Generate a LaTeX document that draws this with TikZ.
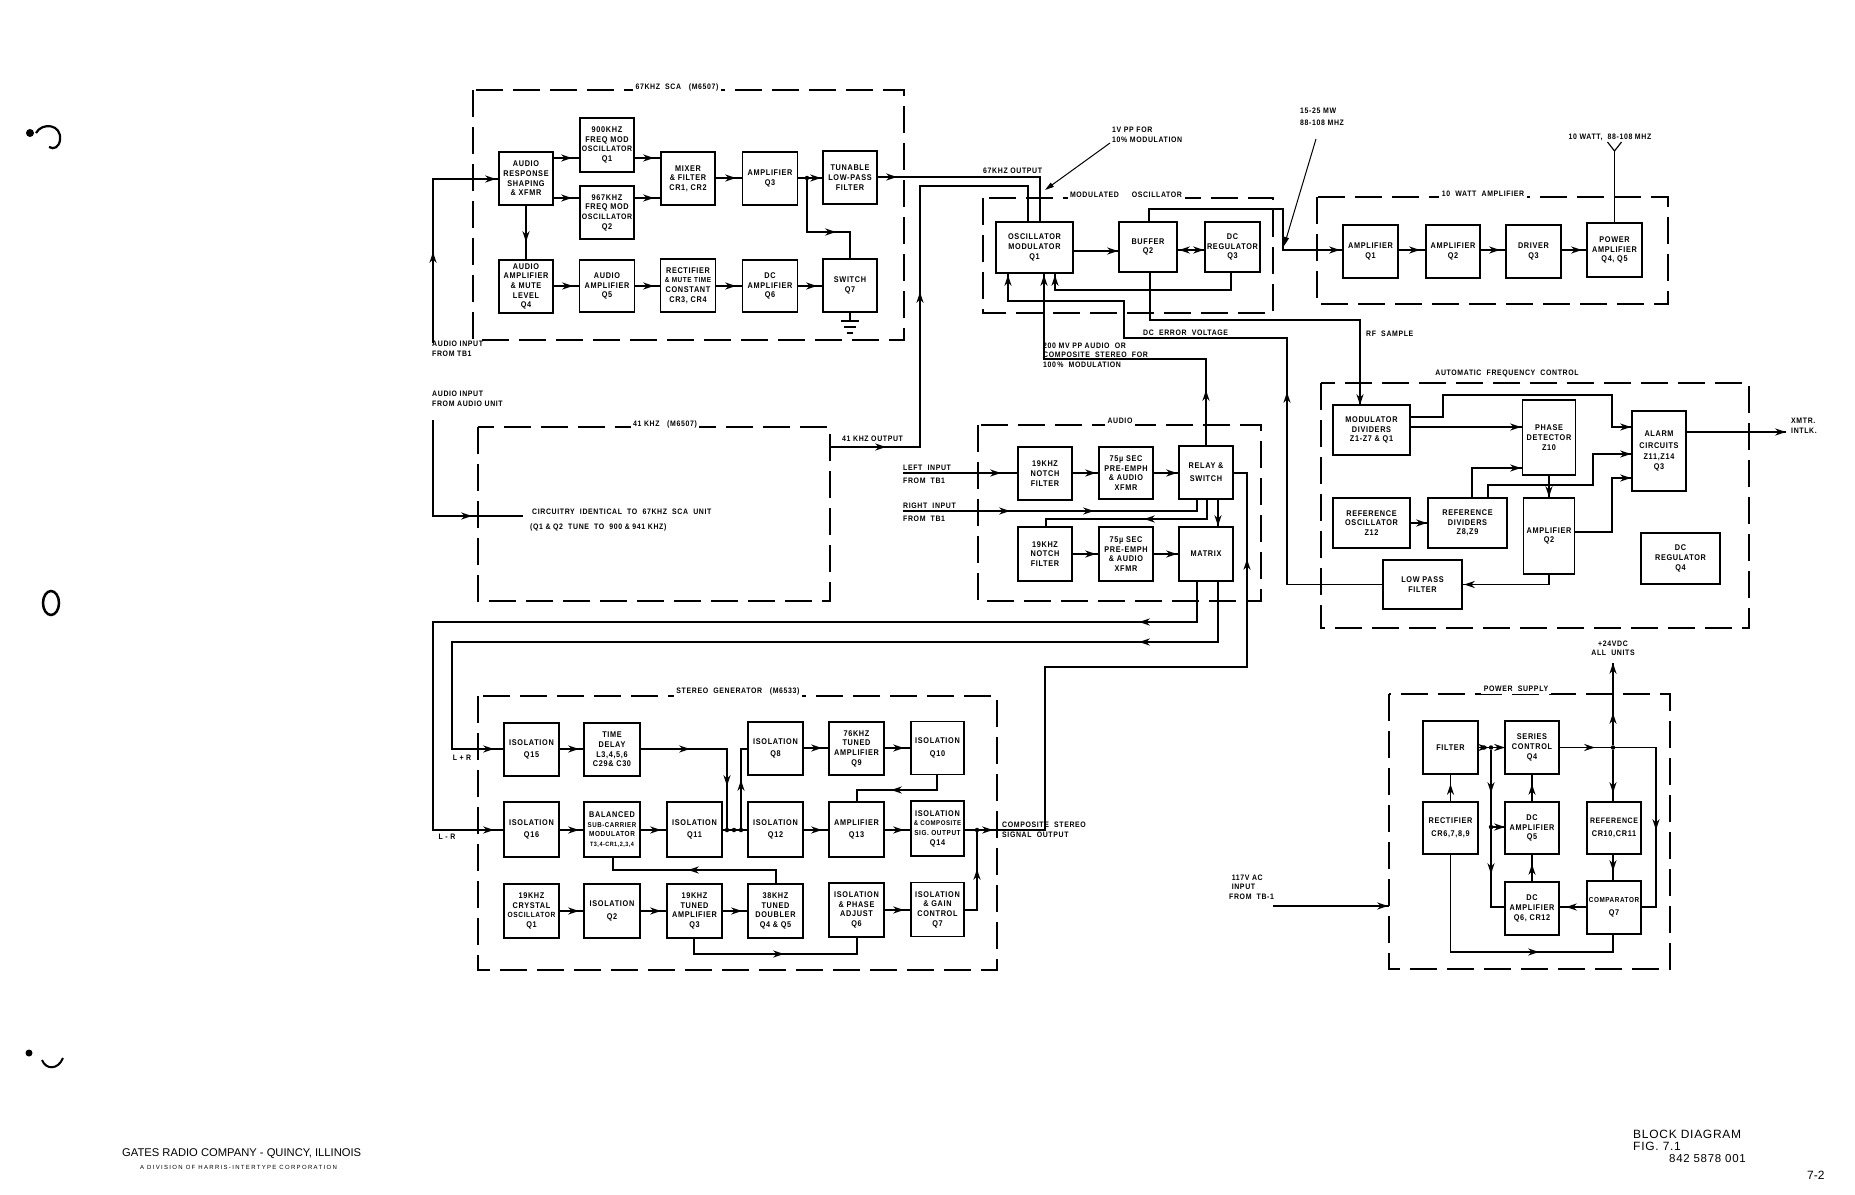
\documentclass[tikz,border=0pt]{standalone}
\usepackage{fontspec}
\usetikzlibrary{arrows.meta}
\newfontfamily\lab{Liberation Sans}[FakeStretch=0.88,LetterSpace=8]
\newfontfamily\plainf{Liberation Sans}
\newfontfamily\titf{Liberation Sans}[LetterSpace=6]
\newfontfamily\widef{Liberation Sans}[LetterSpace=22]
\newcommand\bfnt{\lab\bfseries\fontsize{8.3}{9.7}\selectfont}
\newcommand\lfnt{\lab\bfseries\fontsize{7.9}{9.2}\selectfont}
\newcommand\ah[2]{\fill[shift={#1},rotate=#2] (0,0) -- (-11,3.6) -- (-7.5,0) -- (-11,-3.6) -- cycle;}
\newcommand\bx[6]{\node[blk,minimum width=#4,minimum height=#5] (#1) at (#2,#3) {#6};}
\tikzset{
 blk/.style={draw,line width=1.4pt,align=center,inner sep=0pt,font=\bfnt},
 wire/.style={line width=1.15pt},
 dbox/.style={line width=1.6pt,dash pattern=on 27pt off 10pt},
 ttl/.style={fill=white,inner sep=2.5pt,font=\lfnt},
 lbl/.style={inner sep=0pt,align=left,font=\lfnt},
 lead/.style={line width=1pt,-{Triangle[length=9pt,width=5pt]}},
 jdot/.style={circle,fill,inner sep=0pt,minimum size=4.5pt}
}
\begin{document}
\begin{tikzpicture}[x=1pt,y=-1pt]
\useasboundingbox (0,0) rectangle (1855,1194);
\fill[white] (0,0) rectangle (1855,1194);

% ---------------- dashed units ----------------
\draw[dbox] (473,90) rectangle (904,340);
\node[ttl] (t67) at (677,87) {67KHZ\ \ SCA\ \ \ (M6507)};
\draw[dbox] (478,427) rectangle (830,601);
\node[ttl] (t41) at (665,424) {41\ KHZ\ \ \ (M6507)};
\draw[dbox] (983,198) rectangle (1273,313);
\node[ttl] (tmo) at (1126,195) {MODULATED\ \ \ \ \ OSCILLATOR};
\draw[dbox] (1317,197) rectangle (1668,304);
\node[ttl] (t10) at (1483,194) {10\ \ WATT\ \ AMPLIFIER};
\draw[dbox] (1321,383) rectangle (1749,628);
\node[ttl] (tafc) at (1507,374) {AUTOMATIC\ \ FREQUENCY\ \ CONTROL};
\draw[dbox] (978,425) rectangle (1261,601);
\node[ttl] (tau) at (1120,421) {AUDIO};
\draw[dbox] (478,696) rectangle (997,970);
\node[ttl] (tsg) at (738,691) {STEREO\ \ GENERATOR\ \ \ (M6533)};
\draw[dbox] (1389,694) rectangle (1670,969);
\node[ttl] (tps) at (1516,689) {POWER\ \ SUPPLY};

% ---------------- 67KHZ SCA ----------------
\bx{ars}{526}{178.5}{54}{53}{AUDIO\\RESPONSE\\SHAPING\\\& XFMR}
\bx{oa}{607}{145}{54}{54}{900KHZ\\FREQ MOD\\{\fontsize{7.9}{9.7}\selectfont OSCILLATOR}\\Q1}
\bx{ob}{607}{212.5}{54}{53}{967KHZ\\FREQ MOD\\{\fontsize{7.9}{9.7}\selectfont OSCILLATOR}\\Q2}
\bx{mix}{688}{178.5}{54}{53}{MIXER\\\& FILTER\\CR1, CR2}
\bx{amq}{770}{178.5}{55}{53}{AMPLIFIER\\Q3}
\bx{lpf}{850}{177.5}{54}{53}{TUNABLE\\LOW-PASS\\FILTER}
\bx{aaq}{526}{286.5}{54}{53}{AUDIO\\AMPLIFIER\\\& MUTE\\LEVEL\\Q4}
\bx{abq}{607}{286}{55}{52}{AUDIO\\AMPLIFIER\\Q5}
\bx{rcq}{688}{285.5}{55}{53}{RECTIFIER\\{\fontsize{7.3}{9.7}\selectfont\& MUTE TIME}\\CONSTANT\\CR3, CR4}
\bx{dcq}{770}{286}{55}{52}{DC\\AMPLIFIER\\Q6}
\bx{swq}{850}{285.5}{54}{53}{SWITCH\\Q7}

\coordinate (inA) at (433,343);
\draw[wire] (inA) -- (433,179) -- (ars.west |- 0,179);
\ah{(433,252)}{90} \ah{(496,179)}{0}
\node[lbl,anchor=base west] (linA) at (432,356) {AUDIO INPUT\\FROM TB1};
\draw[wire] (ars.east |- 0,158) -- (oa.west |- 0,158); \ah{(572,158)}{0}
\draw[wire] (ars.east |- 0,198) -- (ob.west |- 0,198); \ah{(572,198)}{0}
\draw[wire] (oa.east |- 0,158) -- (mix.west |- 0,158); \ah{(654,158)}{0}
\draw[wire] (ob.east |- 0,198) -- (mix.west |- 0,198); \ah{(654,198)}{0}
\draw[wire] (mix.east |- 0,178) -- (amq.west |- 0,178); \ah{(736,178)}{0}
\draw[wire] (amq.east |- 0,178) -- (lpf.west |- 0,178); \ah{(821,178)}{0}
\node[jdot] (j67) at (807,178) {};
\draw[wire] (j67) -- (807,232) -- (850,232) -- (swq.north); \ah{(836,232)}{0}
\draw[wire] (ars.south) -- (aaq.north); \ah{(526,242)}{-90}
\draw[wire] (aaq.east |- 0,286) -- (abq.west |- 0,286); \ah{(573,286)}{0}
\draw[wire] (abq.east |- 0,286) -- (rcq.west |- 0,286); \ah{(654,286)}{0}
\draw[wire] (rcq.east |- 0,286) -- (dcq.west |- 0,286); \ah{(736,286)}{0}
\draw[wire] (dcq.east |- 0,286) -- (swq.west |- 0,286); \ah{(817,286)}{0}
\coordinate (gnd) at (850,321);
\draw[wire] (swq.south) -- (gnd);
\draw[wire] (841,321) -- (859,321) (844,327) -- (856,327) (847,333) -- (853,333);

% ---------------- 41 KHZ ----------------
\coordinate (inB) at (433,420);
\coordinate (inBe) at (523,516);
\draw[wire] (inB) -- (433,516) -- (inBe); \ah{(472,516)}{0}
\node[lbl,anchor=base west] (linB) at (432,406) {AUDIO INPUT\\FROM AUDIO UNIT};
\node[lbl,anchor=base west] (c41a) at (532,514) {CIRCUITRY\ \ IDENTICAL\ \ TO\ \ 67KHZ\ \ SCA\ \ UNIT};
\node[lbl,anchor=base west] (c41b) at (530,529) {(Q1 \& Q2\ \ TUNE\ \ TO\ \ 900 \& 941 KHZ)};

% ---------------- modulated oscillator ----------------
\bx{osc}{1034.5}{247.5}{77}{51}{OSCILLATOR\\MODULATOR\\Q1}
\bx{buf}{1148}{247}{58}{50}{BUFFER\\Q2}
\bx{dcr}{1232.5}{247}{55}{50}{DC\\REGULATOR\\Q3}
\draw[wire] (osc.east |- 0,251) -- (buf.west |- 0,251); \ah{(1118,251)}{0}
\draw[wire] (buf.east |- 0,250) -- (dcr.west |- 0,250); \ah{(1179,250)}{180} \ah{(1204,250)}{0}

% 67KHZ and 41KHZ outputs
\draw[wire] (lpf.east |- 0,177) -- (1040,177) -- (1040,0 |- osc.north); \ah{(897,177)}{0}
\node[lbl,anchor=base west] (l67) at (983,173) {67KHZ OUTPUT};
\coordinate (o41) at (830,447);
\draw[wire] (o41) -- (920,447) -- (920,186) -- (1028,186) -- (1028,0 |- osc.north);
\ah{(886,447)}{0} \ah{(920,292)}{90}
\node[lbl,anchor=base west] (l41) at (842,441) {41 KHZ OUTPUT};
\coordinate (lv1) at (1110,143);
\coordinate (lv2) at (1045,190);
\draw[lead] (lv1) -- (lv2);
\node[lbl,anchor=base west] (l1v) at (1112,142) {1V PP FOR\\10\% MODULATION};

% ---------------- 10 watt amplifier ----------------
\bx{a1}{1370.5}{251.5}{55}{53}{AMPLIFIER\\Q1}
\bx{a2}{1453}{251.5}{54}{53}{AMPLIFIER\\Q2}
\bx{drv}{1533.5}{251.5}{55}{53}{DRIVER\\Q3}
\bx{pwa}{1614.5}{250}{55}{54}{POWER\\AMPLIFIER\\Q4, Q5}
\draw[wire] (a1.east |- 0,250) -- (a2.west |- 0,250); \ah{(1420,250)}{0}
\draw[wire] (a2.east |- 0,250) -- (drv.west |- 0,250); \ah{(1500,250)}{0}
\draw[wire] (drv.east |- 0,250) -- (pwa.west |- 0,250); \ah{(1582,250)}{0}
\coordinate (ant) at (1614.5,151);
\draw[wire] (pwa.north) -- (ant);
\draw[wire] (1607.5,142) -- (ant) -- (1621.5,142);
\node[lbl,anchor=base] (lant) at (1610,139) {10 WATT,\ \ 88-108 MHZ};

\draw[wire] (1149,0 |- buf.north) -- (1149,209) -- (1283,209) -- (1283,250) -- (a1.west |- 0,250);
\ah{(1340,250)}{0}
\coordinate (lm1) at (1316,139);
\coordinate (lm2) at (1284,246);
\draw[lead] (lm1) -- (lm2);
\node[lbl,anchor=base west,font=\lab\bfseries\fontsize{7.9}{11.5}\selectfont] (lmw) at (1300,125) {15-25 MW\\88-108 MHZ};

% ---------------- AFC ----------------
\bx{md}{1371.5}{430}{77}{50}{MODULATOR\\DIVIDERS\\Z1-Z7 \& Q1}
\bx{pd}{1549}{437.5}{53}{75}{PHASE\\DETECTOR\\Z10}
\bx{al}{1659}{451}{54}{80}{ALARM\\[2pt]CIRCUITS\\[2pt]Z11,Z14\\Q3}
\bx{ro}{1371.5}{523}{77}{50}{REFERENCE\\OSCILLATOR\\Z12}
\bx{rd}{1467.5}{523}{79}{50}{REFERENCE\\DIVIDERS\\Z8,Z9}
\bx{a2q}{1549}{536}{51}{76}{AMPLIFIER\\Q2}
\bx{dq4}{1680.5}{558.5}{79}{51}{DC\\REGULATOR\\Q4}
\bx{lp}{1422.5}{584.5}{79}{49}{LOW PASS\\FILTER}
\draw[wire] (md.east |- 0,427) -- (pd.west |- 0,427); \ah{(1521,427)}{0}
\draw[wire] (md.east |- 0,417) -- (1443,417) -- (1443,395) -- (1612,395) -- (1612,427) -- (al.west |- 0,427); \ah{(1631,427)}{0}
\draw[wire] (ro.east) -- (rd.west); \ah{(1427,523)}{0}
\draw[wire] (1472,0 |- rd.north) -- (1472,468) -- (pd.west |- 0,468); \ah{(1521,468)}{0}
\draw[wire] (1488,0 |- rd.north) -- (1488,485) -- (1593,485) -- (1593,454) -- (al.west |- 0,454); \ah{(1631,454)}{0}
\draw[wire] (pd.south) -- (a2q.north); \ah{(1549,497)}{-90}
\draw[wire] (a2q.east |- 0,532) -- (1612,532) -- (1612,478) -- (al.west |- 0,478); \ah{(1631,478)}{0}
\draw[wire] (a2q.south) -- (1549,584.5) -- (lp.east); \ah{(1464,584.5)}{180}
\coordinate (xm) at (1786,432);
\draw[wire] (al.east |- 0,432) -- (xm); \ah{(1786,432)}{0}
\node[lbl,anchor=base west] (lxm) at (1791,433) {XMTR.\\INTLK.};

% DC error voltage, RF sample, audio drive
\draw[wire] (lp.west) -- (1287,584.5) -- (1287,338) -- (1124,338) -- (1124,301) -- (1008,301) -- (1008,0 |- osc.south);
\ah{(1008,275)}{90} \ah{(1287,392)}{90}
\node[lbl,anchor=base west] (ldc) at (1143,335) {DC\ \ ERROR\ \ VOLTAGE};
\draw[wire] (1231,0 |- dcr.south) -- (1231,290) -- (1055,290) -- (1055,0 |- osc.south); \ah{(1055,275)}{90}
\draw[wire] (1150,0 |- buf.south) -- (1150,320) -- (1360,320) -- (1360,0 |- md.north); \ah{(1360,405)}{-90}
\node[lbl,anchor=base west] (lrf) at (1366,336) {RF\ \ SAMPLE};

% ---------------- audio ----------------
\bx{na}{1045}{473.5}{54}{53}{19KHZ\\NOTCH\\FILTER}
\bx{pa1}{1126}{473}{54}{52}{75µ SEC\\PRE-EMPH\\\& AUDIO\\XFMR}
\bx{rel}{1206}{472.5}{54}{53}{RELAY \&\\[3pt]SWITCH}
\bx{nb}{1045}{554}{54}{54}{19KHZ\\NOTCH\\FILTER}
\bx{pb}{1126}{554}{54}{54}{75µ SEC\\PRE-EMPH\\\& AUDIO\\XFMR}
\bx{mtx}{1206}{554}{54}{54}{MATRIX}
\draw[wire] (1206,0 |- rel.north) -- (1206,359) -- (1044,359) -- (1044,0 |- osc.south);
\ah{(1044,275)}{90} \ah{(1206,390)}{90}
\node[lbl,anchor=base west] (l200) at (1043,367) {200 MV PP AUDIO\ \ OR\\COMPOSITE\ \ STEREO\ \ FOR\\100\,\%\ \ MODULATION};
\coordinate (lin) at (903,473);
\draw[wire] (lin) -- (na.west |- 0,473); \ah{(1001,473)}{0}
\node[lbl,anchor=base west] (lleft) at (903,470) {LEFT\ \ INPUT};
\node[lbl,anchor=base west] (lleft2) at (903,483) {FROM\ \ TB1};
\draw[wire] (na.east |- 0,473) -- (pa1.west |- 0,473); \ah{(1096,473)}{0}
\draw[wire] (pa1.east |- 0,473) -- (rel.west |- 0,473); \ah{(1177,473)}{0}
\coordinate (rin) at (903,511);
\draw[wire] (rin) -- (1197,511) -- (1197,0 |- rel.south); \ah{(1010,511)}{0} \ah{(1094,511)}{0}
\node[lbl,anchor=base west] (lright) at (903,508) {RIGHT\ \ INPUT};
\node[lbl,anchor=base west] (lright2) at (903,521) {FROM\ \ TB1};
\draw[wire] (1207,0 |- rel.south) -- (1207,519) -- (1046,519) -- (1046,0 |- nb.north); \ah{(1144,519)}{180}
\draw[wire] (1218,0 |- rel.south) -- (1218,0 |- mtx.north); \ah{(1218,526)}{-90}
\draw[wire] (nb.east |- 0,554) -- (pb.west |- 0,554); \ah{(1096,554)}{0}
\draw[wire] (pb.east |- 0,554) -- (mtx.west |- 0,554); \ah{(1177,554)}{0}

% ---------------- stereo generator ----------------
\bx{q15}{531.5}{749.5}{55}{53}{ISOLATION\\[3pt]Q15}
\bx{td}{612}{749.5}{56}{53}{TIME\\DELAY\\L3,4,5,6\\C29\& C30}
\bx{q8}{775.5}{748.5}{55}{53}{ISOLATION\\[3pt]Q8}
\bx{q9}{856.5}{748.5}{55}{53}{76KHZ\\TUNED\\AMPLIFIER\\Q9}
\bx{q10}{937.5}{748}{53}{53}{ISOLATION\\[3pt]Q10}
\bx{q16}{531.5}{829.5}{55}{55}{ISOLATION\\[3pt]Q16}
\bx{bm}{612}{829.5}{56}{55}{BALANCED\\{\fontsize{7}{9.7}\selectfont SUB-CARRIER}\\{\fontsize{7.3}{9.7}\selectfont MODULATOR}\\{\fontsize{6.2}{9.7}\selectfont T3,4-CR1,2,3,4}}
\bx{q11}{694.5}{829.5}{55}{55}{ISOLATION\\[3pt]Q11}
\bx{q12}{775.5}{829.5}{55}{55}{ISOLATION\\[3pt]Q12}
\bx{q13}{856.5}{829.5}{55}{55}{AMPLIFIER\\[3pt]Q13}
\bx{q14}{937.5}{828.5}{53}{55}{ISOLATION\\{\fontsize{6.9}{9.7}\selectfont\& COMPOSITE}\\{\fontsize{7.3}{9.7}\selectfont SIG. OUTPUT}\\Q14}
\bx{q1c}{531.5}{911}{55}{54}{19KHZ\\CRYSTAL\\{\fontsize{7.5}{9.7}\selectfont OSCILLATOR}\\Q1}
\bx{q2i}{612}{911}{56}{54}{ISOLATION\\[3pt]Q2}
\bx{q3t}{694.5}{911}{55}{54}{19KHZ\\TUNED\\AMPLIFIER\\Q3}
\bx{dbl}{775.5}{911}{55}{54}{38KHZ\\TUNED\\DOUBLER\\Q4 \& Q5}
\bx{q6p}{856.5}{910}{55}{54}{ISOLATION\\\& PHASE\\ADJUST\\Q6}
\bx{q7g}{937.5}{909.5}{53}{54}{ISOLATION\\\& GAIN\\CONTROL\\Q7}

\draw[wire] (1197,0 |- mtx.south) -- (1197,622) -- (433,622) -- (433,830) -- (q16.west |- 0,830);
\ah{(1139,622)}{180} \ah{(494,830)}{0}
\draw[wire] (1218,0 |- mtx.south) -- (1218,642) -- (452,642) -- (452,749) -- (q15.west |- 0,749);
\ah{(1139,642)}{180} \ah{(494,749)}{0}
\node[lbl,anchor=base] (llr) at (462,760) {L + R};
\node[lbl,anchor=base] (llm) at (447,839) {L - R};

\draw[wire] (q15.east |- 0,749) -- (td.west |- 0,749); \ah{(579,749)}{0}
\node[jdot] (ja) at (727,830) {};
\node[jdot] (jb) at (734,830) {};
\node[jdot] (jc) at (741,830) {};
\draw[wire] (td.east |- 0,749) -- (727,749) -- (ja); \ah{(690,749)}{0} \ah{(727,786)}{-90}
\draw[wire] (q11.east |- 0,830) -- (q12.west |- 0,830);
\draw[wire] (jc) -- (741,749) -- (q8.west |- 0,749); \ah{(741,780)}{90}
\draw[wire] (q8.east |- 0,748) -- (q9.west |- 0,748); \ah{(822,748)}{0}
\draw[wire] (q9.east |- 0,748) -- (q10.west |- 0,748); \ah{(904,748)}{0}
\draw[wire] (q16.east |- 0,830) -- (bm.west |- 0,830); \ah{(579,830)}{0}
\draw[wire] (bm.east |- 0,830) -- (q11.west |- 0,830); \ah{(661,830)}{0}
\draw[wire] (q12.east |- 0,830) -- (q13.west |- 0,830); \ah{(822,830)}{0}
\draw[wire] (q13.east |- 0,830) -- (q14.west |- 0,830); \ah{(904,830)}{0}
\draw[wire] (937,0 |- q10.south) -- (937,790) -- (857,790) -- (857,0 |- q13.north); \ah{(891,790)}{180}
\draw[wire] (q1c.east |- 0,911) -- (q2i.west |- 0,911); \ah{(579,911)}{0}
\draw[wire] (q2i.east |- 0,911) -- (q3t.west |- 0,911); \ah{(661,911)}{0}
\draw[wire] (q3t.east |- 0,911) -- (dbl.west |- 0,911); \ah{(742,911)}{0}
\draw[wire] (776,0 |- dbl.north) -- (776,870) -- (613,870) -- (613,0 |- bm.south); \ah{(688,870)}{180}
\draw[wire] (694,0 |- q3t.south) -- (694,954) -- (857,954) -- (857,0 |- q6p.south); \ah{(784,954)}{0}
\draw[wire] (q6p.east |- 0,910) -- (q7g.west |- 0,910); \ah{(904,910)}{0}
\node[jdot] (jd) at (977,830) {};
\draw[wire] (q7g.east |- 0,910) -- (977,910) -- (jd); \ah{(977,869)}{90}
\draw[wire] (q14.east |- 0,830) -- (1045,830) -- (1045,667) -- (1247,667) -- (1247,473) -- (rel.east |- 0,473);
\ah{(993,830)}{0} \ah{(1247,559)}{90}
\node[lbl,anchor=base west] (lcs) at (1002,837) {COMPOSITE\ \ STEREO\\SIGNAL\ \ OUTPUT};

% ---------------- power supply ----------------
\bx{flt}{1450.5}{747.5}{55}{53}{FILTER}
\bx{sc}{1532}{747.5}{54}{53}{SERIES\\CONTROL\\Q4}
\bx{rct}{1450.5}{828}{55}{52}{RECTIFIER\\[3pt]CR6,7,8,9}
\bx{dq5}{1532}{828}{54}{52}{DC\\AMPLIFIER\\Q5}
\bx{rf}{1614}{828}{54}{52}{{\fontsize{7.9}{9.7}\selectfont REFERENCE}\\[3pt]CR10,CR11}
\bx{dq6}{1532}{908.5}{54}{53}{DC\\AMPLIFIER\\Q6, CR12}
\bx{cmp}{1614}{907.5}{54}{53}{{\fontsize{7.2}{9.7}\selectfont COMPARATOR}\\[3pt]Q7}
\draw[wire] (rct.north) -- (flt.south); \ah{(1450.5,784)}{90}
\node[jdot] (je) at (1484,747.5) {};
\node[jdot] (jf) at (1491,747.5) {};
\draw[wire] (flt.east) -- (sc.west); \ah{(1489,747.5)}{0} \ah{(1505,747.5)}{0}
\node[jdot] (jg) at (1491,827) {};
\draw[wire] (jf) -- (1491,907) -- (dq6.west |- 0,907); \ah{(1491,793)}{-90} \ah{(1491,874)}{-90}
\draw[wire] (jg) -- (dq5.west |- 0,827); \ah{(1505,827)}{0}
\draw[wire] (dq6.north) -- (dq5.south); \ah{(1532,864)}{90}
\draw[wire] (dq5.north) -- (sc.south); \ah{(1532,784)}{90}
\node[jdot] (jh) at (1613,747.5) {};
\draw[wire] (sc.east) -- (1656,747.5) -- (1656,907) -- (cmp.east |- 0,907); \ah{(1595,747.5)}{0} \ah{(1656,830)}{-90}
\coordinate (v24) at (1613,663);
\draw[wire] (jh) -- (v24); \ah{(1613,663)}{90} \ah{(1613,713)}{90}
\draw[wire] (jh) -- (1613,0 |- rf.north); \ah{(1613,793)}{-90}
\draw[wire] (1613,0 |- rf.south) -- (1613,0 |- cmp.north); \ah{(1613,871)}{-90}
\draw[wire] (cmp.west |- 0,907) -- (dq6.east |- 0,907); \ah{(1566,907)}{180}
\draw[wire] (1450.5,0 |- rct.south) -- (1450.5,952) -- (1613,952) -- (1613,0 |- cmp.south); \ah{(1539,952)}{0}
\node[lbl,align=center] (l24) at (1613,648) {+24VDC\\ALL\ \ UNITS};
\coordinate (acin) at (1273,906);
\draw[wire] (acin) -- (1389,906); \ah{(1388,906)}{0}
\node[lbl,anchor=base west] (lac) at (1229,899) {\ 117V AC\\\ INPUT\\FROM\ \ TB-1};

% ---------------- footer ----------------
\node[anchor=base west,inner sep=0pt,font=\plainf\fontsize{11.2}{12}\selectfont] (f1) at (122,1156) {GATES RADIO COMPANY - QUINCY, ILLINOIS};
\node[anchor=base west,inner sep=0pt,font=\widef\fontsize{6}{7}\selectfont] (f2) at (140,1169) {A DIVISION OF HARRIS-INTERTYPE CORPORATION};
\node[anchor=base west,inner sep=0pt,font=\titf\fontsize{12}{12}\selectfont] (f3) at (1633,1138) {BLOCK DIAGRAM};
\node[anchor=base west,inner sep=0pt,font=\titf\fontsize{12}{12}\selectfont] (f3b) at (1633,1150) {FIG. 7.1};
\node[anchor=base west,inner sep=0pt,font=\titf\fontsize{11.5}{12}\selectfont] (f3c) at (1669,1162) {842 5878 001};
\node[anchor=base west,inner sep=0pt,font=\plainf\fontsize{12}{12}\selectfont] (f4) at (1807,1179) {7-2};

% ---------------- punch marks ----------------
\draw[line width=2.2pt] (36,133) .. controls (42,122) and (62,124) .. (60,140) .. controls (59,147) and (54,150) .. (49,147);
\fill (30,133) circle (4);
\draw[line width=2.5pt] (51,603) ellipse (8 and 12);
\fill (29,1053) circle (3.5);
\draw[line width=2pt] (42,1060) .. controls (46,1070) and (58,1070) .. (63,1058);
\end{tikzpicture}
\end{document}
